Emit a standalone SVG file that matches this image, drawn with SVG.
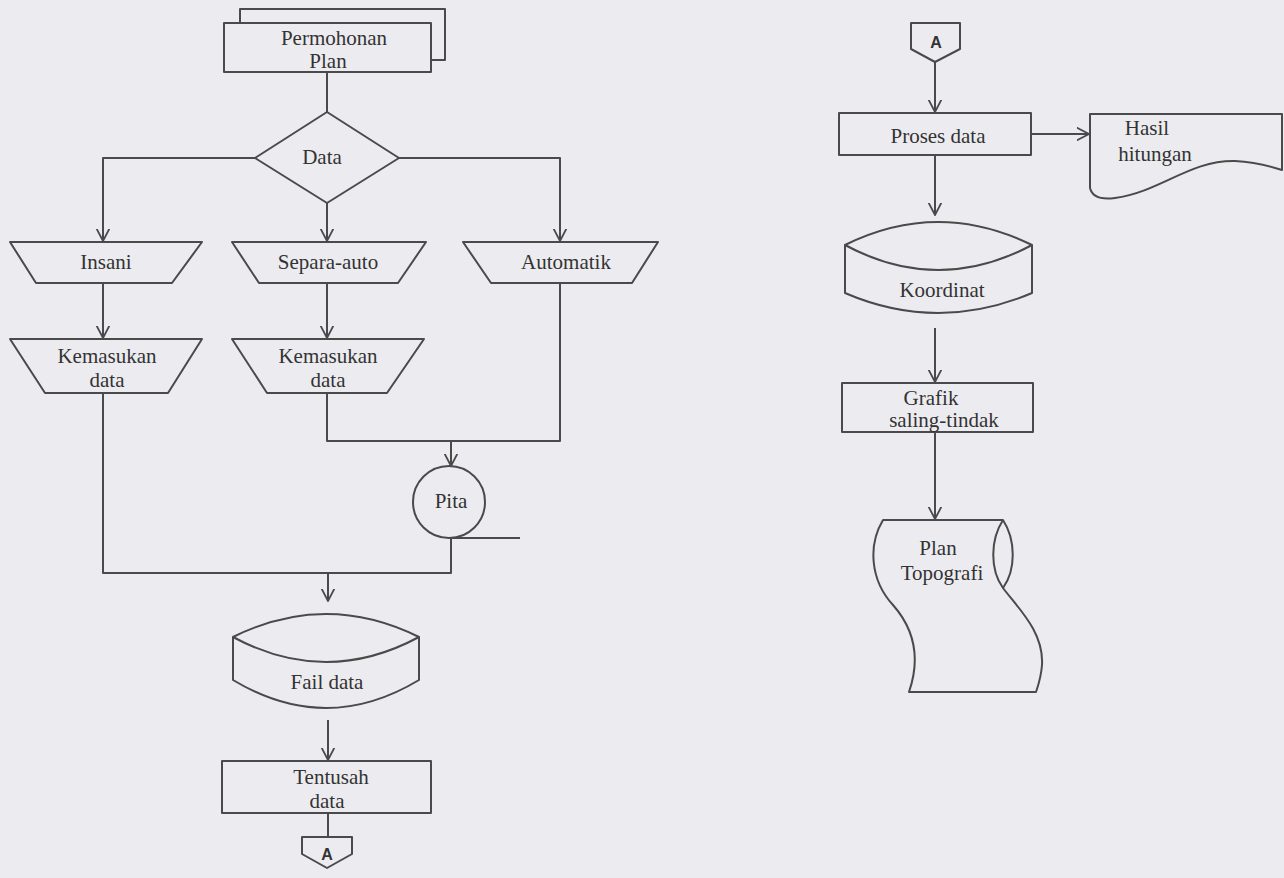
<svg xmlns="http://www.w3.org/2000/svg" width="1284" height="878" viewBox="0 0 1284 878">
<style>
.s{fill:none;stroke:#4a4a4a;stroke-width:2;stroke-linejoin:round}
.f{fill:#ececf0;stroke:#4a4a4a;stroke-width:2;stroke-linejoin:round}
.t{font-family:"Liberation Serif",serif;font-size:21px;fill:#333333;text-anchor:middle}
.a{font-family:"Liberation Sans",sans-serif;font-size:16px;font-weight:bold;fill:#333333;text-anchor:middle}
</style>
<defs>
<marker id="arr" viewBox="0 0 13 14" markerWidth="13" markerHeight="14" refX="12.5" refY="7" orient="auto" markerUnits="userSpaceOnUse">
<path d="M0,0.5 L12.5,7 L0,13.5" fill="none" stroke="#4a4a4a" stroke-width="1.8"/>
</marker>
</defs>
<rect width="1284" height="878" fill="#ececf0"/>
<g id="connectors" class="s">
<path d="M327,72 V112"/>
<path d="M255,158 H103 V241" marker-end="url(#arr)"/>
<path d="M327,203 V241" marker-end="url(#arr)"/>
<path d="M399,158 H560 V241" marker-end="url(#arr)"/>
<path d="M103,283 V338" marker-end="url(#arr)"/>
<path d="M327,283 V338" marker-end="url(#arr)"/>
<path d="M327,393 V441 H560 V283"/>
<path d="M451,441 V466" marker-end="url(#arr)"/>
<path d="M103,393 V573 H451 V538"/>
<path d="M451,538 H520"/>
<path d="M328,573 V601" marker-end="url(#arr)"/>
<path d="M328,720 V760" marker-end="url(#arr)"/>
<path d="M328,813 V837"/>
<path d="M935,62 V112" marker-end="url(#arr)"/>
<path d="M1031,134 H1089" marker-end="url(#arr)"/>
<path d="M935,155 V215" marker-end="url(#arr)"/>
<path d="M935,328 V382" marker-end="url(#arr)"/>
<path d="M935,432 V519" marker-end="url(#arr)"/>
</g>
<g id="permohonan">
<path class="s" d="M240,23 V9 H445 V60 H431"/>
<rect class="f" x="224" y="23" width="207" height="49"/>
<text class="t" x="334" y="45">Permohonan</text>
<text class="t" x="328" y="68">Plan</text>
</g>
<g id="data">
<path class="f" d="M327,112 L399,158 L327,203 L255,158 Z"/>
<text class="t" x="322" y="164">Data</text>
</g>
<g id="insani">
<path class="f" d="M10,242 H202 L172,283 H36 Z"/>
<text class="t" x="106" y="269">Insani</text>
</g>
<g id="separa-auto">
<path class="f" d="M232,242 H426 L398,283 H259 Z"/>
<text class="t" x="328" y="269">Separa-auto</text>
</g>
<g id="automatik">
<path class="f" d="M463,242 H658 L632,283 H491 Z"/>
<text class="t" x="566" y="269">Automatik</text>
</g>
<g id="kemasukan-1">
<path class="f" d="M10,339 H202 L168,393 H45 Z"/>
<text class="t" x="107" y="363">Kemasukan</text>
<text class="t" x="107" y="387">data</text>
</g>
<g id="kemasukan-2">
<path class="f" d="M232,339 H424 L387,393 H267 Z"/>
<text class="t" x="328" y="363">Kemasukan</text>
<text class="t" x="328" y="387">data</text>
</g>
<g id="pita">
<circle class="f" cx="449" cy="502" r="36"/>
<text class="t" x="451" y="508">Pita</text>
</g>
<g id="fail-data">
<path class="f" d="M233,637 Q326,591 419,637 V680 Q326,736 233,680 Z"/>
<path class="s" d="M233,637 Q326,687 419,637"/>
<text class="t" x="327" y="689">Fail data</text>
</g>
<g id="tentusah">
<rect class="f" x="222" y="761" width="209" height="52"/>
<text class="t" x="331" y="784">Tentusah</text>
<text class="t" x="327" y="808">data</text>
</g>
<g id="connector-a-1">
<path class="f" d="M302,837 H352 V854 L327,868 L302,854 Z"/>
<text class="a" x="327" y="860">A</text>
</g>
<g id="connector-a-2">
<path class="f" d="M911,23 H960 V49 L935,62 L911,49 Z"/>
<text class="a" x="936" y="48">A</text>
</g>
<g id="proses-data">
<rect class="f" x="839" y="113" width="192" height="42"/>
<text class="t" x="938" y="143">Proses data</text>
</g>
<g id="hasil-hitungan">
<path class="f" d="M1090,114 H1282 V170 C1270,166 1255,162 1235,161 C1190,160 1160,192 1115,198 C1100,200 1092,196 1090,188 Z"/>
<text class="t" x="1147" y="135">Hasil</text>
<text class="t" x="1155" y="161">hitungan</text>
</g>
<g id="koordinat">
<path class="f" d="M845,245 Q938,199 1032,245 V293 Q938,333 845,293 Z"/>
<path class="s" d="M845,245 Q938,295 1032,245"/>
<text class="t" x="942" y="297">Koordinat</text>
</g>
<g id="grafik">
<rect class="f" x="842" y="383" width="191" height="49"/>
<text class="t" x="931" y="405">Grafik</text>
<text class="t" x="944" y="427">saling-tindak</text>
</g>
<g id="plan-topografi">
<path class="f" d="M883,520 H1003 C1016,540 1016,570 1003,588 C1018,608 1044,632 1042,665 C1041,678 1038,686 1036,692 H909 C920,660 915,630 893,605 C870,580 868,545 883,520 Z"/>
<path class="s" d="M1003,520 C990,540 990,570 1003,588"/>
<text class="t" x="938" y="555">Plan</text>
<text class="t" x="942" y="580">Topografi</text>
</g>
</svg>
